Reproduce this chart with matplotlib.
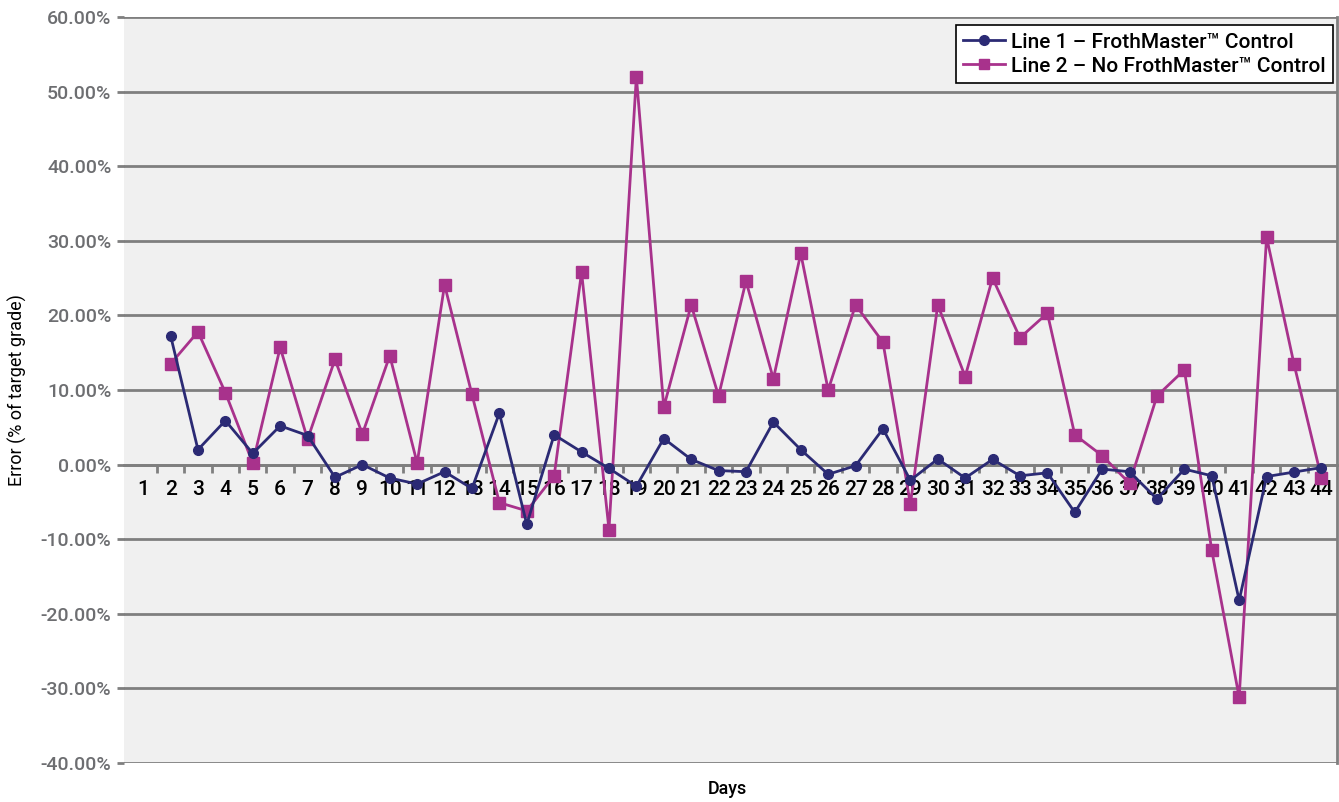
import matplotlib.pyplot as plt
import numpy as np
from matplotlib.ticker import FixedLocator, FuncFormatter

plt.rcParams["font.family"] = ["Roboto", "DejaVu Sans"]
plt.rcParams["font.weight"] = "medium"

days = list(range(1, 45))
# values in percent, day 1 has no data
line1 = [None, 17.3, 2.0, 5.9, 1.5, 5.2, 3.9, -1.7, 0.0, -1.8, -2.6, -0.95, -3.2, 6.9,
         -8.0, 4.0, 1.7, -0.5, -2.9, 3.5, 0.7, -0.8, -0.95, 5.7, 2.0, -1.3, -0.15, 4.8,
         -2.1, 0.75, -1.8, 0.7, -1.5, -1.1, -6.4, -0.6, -0.95, -4.6, -0.6, -1.5, -18.2,
         -1.6, -1.0, -0.4]
line2 = [None, 13.5, 17.8, 9.65, 0.2, 15.7, 3.4, 14.1, 4.1, 14.6, 0.2, 24.1, 9.4, -5.1,
         -6.2, -1.5, 25.8, -8.7, 52.0, 7.7, 21.4, 9.2, 24.6, 11.5, 28.3, 10.0, 21.4, 16.4,
         -5.3, 21.4, 11.8, 25.0, 17.0, 20.3, 4.0, 1.2, -2.5, 9.2, 12.7, -11.5, -31.2,
         30.5, 13.5, -1.75]
labels = ["Line 1 \u2013 FrothMaster\u2122 Control", "Line 2 \u2013 No FrothMaster\u2122 Control"]

GRID = "#7f7f7f"
NAVY = "#2b2a74"
MAGENTA = "#a8328c"

y1 = np.array([np.nan if v is None else v for v in line1])
y2 = np.array([np.nan if v is None else v for v in line2])

fig = plt.figure(figsize=(13.39, 8.02), dpi=100)
ax = fig.add_axes([0.0926, 0.0486, 0.9059, 0.9302])
ax.set_facecolor("#f0f0f0")

ax.plot(days, y1, color=NAVY, lw=2.0, marker="o", ms=7, label=labels[0], zorder=4)
ax.plot(days, y2, color=MAGENTA, lw=2.0, marker="s", ms=9, label=labels[1], zorder=3)

ax.set_ylim(-40, 60)
ax.set_xlim(0.3, 44.57)
ax.set_yticks(np.arange(-40, 61, 10))
ax.yaxis.set_major_formatter(FuncFormatter(lambda v, p: f"{v:.2f}%"))
ax.tick_params(axis="y", colors=GRID, labelcolor="#6d6e71", length=5, width=2,
               labelsize=14, pad=4)
ax.grid(axis="y", color=GRID, lw=2, zorder=1)
ax.set_axisbelow(True)

# category axis sits at zero
for s in ["top", "left"]:
    ax.spines[s].set_visible(False)
ax.spines["right"].set_color(GRID)
ax.spines["right"].set_linewidth(2)
ax.spines["bottom"].set_position(("data", 0))
ax.spines["bottom"].set_color(GRID)
ax.spines["bottom"].set_linewidth(2)
ax.set_xticks(days)
ax.set_xticklabels([str(d) for d in days])
ax.xaxis.set_minor_locator(FixedLocator(np.arange(1.5, 44, 1)))
ax.tick_params(axis="x", which="major", length=0, labelsize=15, labelcolor="black", pad=11)
ax.tick_params(axis="x", which="minor", length=6, width=2, color=GRID)

ax.set_ylabel("Error (% of target grade)", fontsize=13, color="black", labelpad=10)
fig.text(0.5435, 0.016, "Days", fontsize=13, ha="center", va="center")

leg = ax.legend(loc="upper right", bbox_to_anchor=(0.9965, 0.989), fontsize=15,
                frameon=True, fancybox=False, framealpha=1, edgecolor="black",
                handlelength=2.0, handletextpad=0.3, borderpad=0.35, labelspacing=0.25,
                borderaxespad=0)
leg.get_frame().set_linewidth(1.2)
for h in leg.legend_handles:
    h.set_markersize(7)

fig.savefig("out.png", dpi=100)
